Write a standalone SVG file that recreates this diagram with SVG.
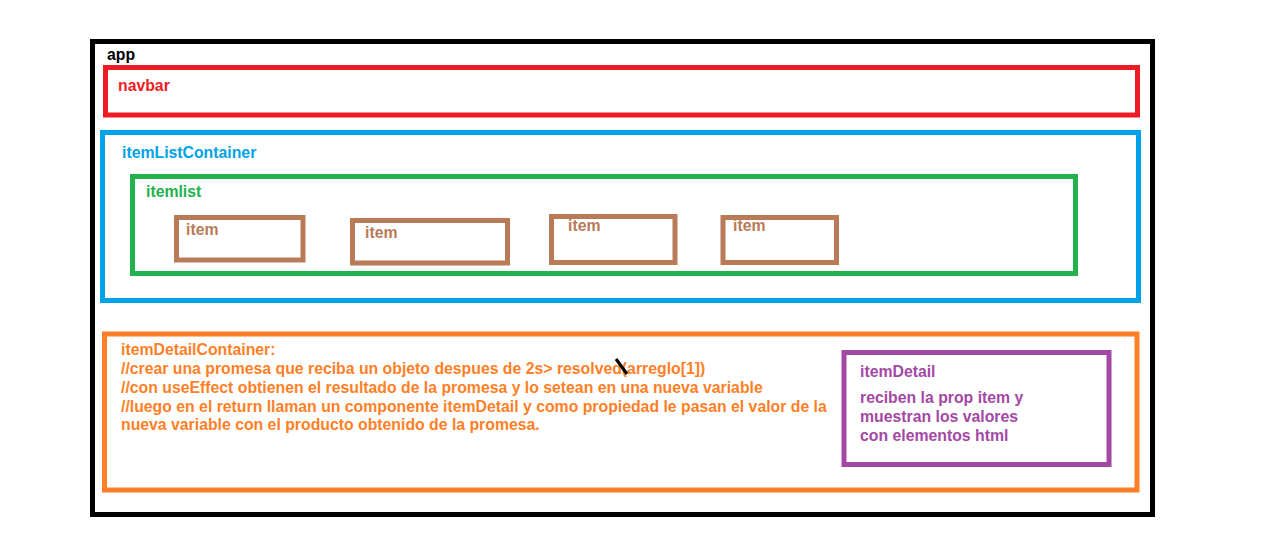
<svg xmlns="http://www.w3.org/2000/svg" width="1280" height="540" viewBox="0 0 1280 540">
<style>
rect{fill:none;stroke-width:5}
text{font-family:"Liberation Sans",Arial,sans-serif;font-size:15.8px;font-weight:bold}
.blk{stroke:#000}.red{stroke:#ED1C24}.blue{stroke:#00A2E8}.green{stroke:#22B14C}.brown{stroke:#B97A57}.orange{stroke:#FF7F27}.purple{stroke:#A349A4}
</style>
<rect x="0" y="0" width="1280" height="540" style="fill:#fff;stroke:none"/>
<g id="app">
<rect class="blk" x="92.5" y="41.5" width="1060" height="473"/>
<text x="107" y="60" fill="#000">app</text>
</g>
<g id="navbar">
<rect class="red" x="105.5" y="67.5" width="1032" height="47.5"/>
<text x="118" y="91" fill="#ED1C24">navbar</text>
</g>
<g id="itemListContainer">
<rect class="blue" x="102.5" y="132.5" width="1036" height="168"/>
<text x="122" y="158" fill="#00A2E8">itemListContainer</text>
</g>
<g id="itemlist">
<rect class="green" x="132.5" y="176.5" width="943" height="97"/>
<text x="146" y="197" fill="#22B14C">itemlist</text>
</g>
<g id="item1">
<rect class="brown" x="176.5" y="217.5" width="126.5" height="42.5"/>
<text x="186" y="235" fill="#B97A57">item</text>
</g>
<g id="item2">
<rect class="brown" x="352.5" y="220.5" width="155" height="42.5"/>
<text x="365" y="238" fill="#B97A57">item</text>
</g>
<g id="item3">
<rect class="brown" x="551.5" y="216.5" width="123.5" height="46"/>
<text x="568" y="231" fill="#B97A57">item</text>
</g>
<g id="item4">
<rect class="brown" x="723" y="217.5" width="113.5" height="45"/>
<text x="733" y="231" fill="#B97A57">item</text>
</g>
<g id="itemDetailContainer">
<rect class="orange" x="104.5" y="334" width="1032.5" height="156"/>
<text x="121" y="355" fill="#FF7F27">itemDetailContainer:</text>
<text x="121" y="374" fill="#FF7F27">//crear una promesa que reciba un objeto despues de 2s&gt; resolved(arreglo[1])</text>
<text x="121" y="393" fill="#FF7F27">//con useEffect obtienen el resultado de la promesa y lo setean en una nueva variable</text>
<text x="121" y="412" fill="#FF7F27">//luego en el return llaman un componente itemDetail y como propiedad le pasan el valor de la</text>
<text x="121" y="430" fill="#FF7F27">nueva variable con el producto obtenido de la promesa.</text>
<line x1="616" y1="359" x2="627" y2="374" stroke="#000" stroke-width="3"/>
</g>
<g id="itemDetail">
<rect class="purple" x="844" y="352.5" width="265" height="112"/>
<text x="860" y="377" fill="#A349A4">itemDetail</text>
<text x="860" y="403" fill="#A349A4">reciben la prop item y</text>
<text x="860" y="422" fill="#A349A4">muestran los valores</text>
<text x="860" y="441" fill="#A349A4">con elementos html</text>
</g>
</svg>
